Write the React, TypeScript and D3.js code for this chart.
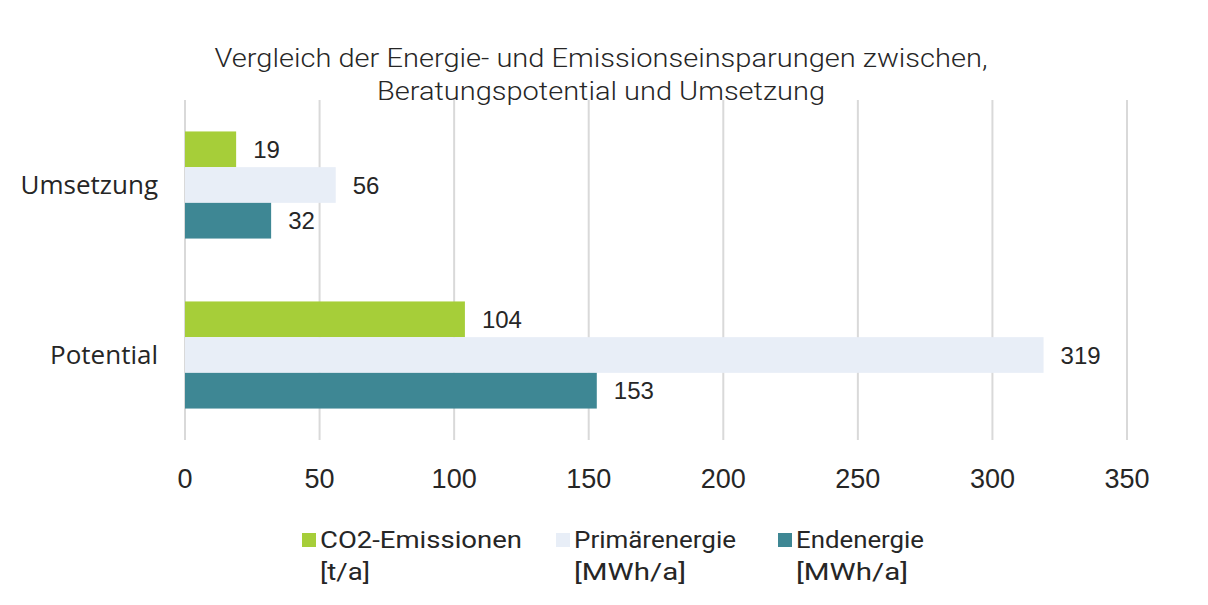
import * as d3 from "d3";

const categories = ["Umsetzung", "Potential"];
const seriesNames = ["CO2-Emissionen", "Primärenergie", "Endenergie"];
const seriesUnits = ["[t/a]", "[MWh/a]", "[MWh/a]"];
const seriesColors = ["#A6CE39", "#E8EEF7", "#3E8794"];
const co2Values = [19, 104];
const primaryValues = [56, 319];
const finalValues = [32, 153];
const xTicks = [0, 50, 100, 150, 200, 250, 300, 350];
const titleLines = [
  "Vergleich der Energie- und Emissionseinsparungen zwischen,",
  "Beratungspotential und Umsetzung",
];

const width = 1208;
const height = 605;
const margin = { top: 100, right: 81, bottom: 165, left: 185 };
const thin = "Roboto, 'Liberation Sans', sans-serif";
const plain = "'Liberation Sans', Arial, sans-serif";

// measured text widths of the condensed office font in the reference
const titleWidths = [773, 448];
const nameWidths = [202, 162, 128];
const unitWidths = [50, 112, 112];

export default function App() {
  const seriesValues = [co2Values, primaryValues, finalValues];

  const x = d3
    .scaleLinear()
    .domain([0, 350])
    .range([margin.left, width - margin.right]);

  const y = d3
    .scaleBand()
    .domain(categories)
    .range([margin.top, height - margin.bottom])
    .paddingInner(0.37)
    .paddingOuter(0.185);

  const inner = d3
    .scaleBand()
    .domain(seriesNames)
    .range([0, y.bandwidth()])
    .padding(0);

  const legendX = [302, 556, 778];

  return (
    <svg
      width={width}
      height={height}
      viewBox={`0 0 ${width} ${height}`}
      style={{ position: "absolute", left: 0, top: 0, background: "#fff" }}
    >
      {titleLines.map((line, i) => (
        <text
          key={line}
          x={601}
          y={67 + i * 33}
          textAnchor="middle"
          fontFamily={thin}
          fontWeight={300}
          fontSize={25}
          fill="#262626"
          textLength={titleWidths[i]}
          lengthAdjust="spacingAndGlyphs"
        >
          {line}
        </text>
      ))}

      {xTicks.map((t) => (
        <line
          key={`g${t}`}
          x1={x(t)}
          x2={x(t)}
          y1={margin.top}
          y2={height - margin.bottom}
          stroke="#D9D9D9"
          strokeWidth={2}
        />
      ))}

      {categories.map((cat, ci) =>
        seriesNames.map((name, si) => {
          const v = seriesValues[si][ci];
          const yy = (y(cat) ?? 0) + (inner(name) ?? 0);
          const bh = inner.bandwidth();
          return (
            <g key={`${cat}-${name}`}>
              <rect
                x={x(0)}
                y={yy}
                width={x(v) - x(0)}
                height={bh}
                fill={seriesColors[si]}
              />
              <text
                x={x(v) + 17}
                y={yy + bh / 2}
                dy="0.36em"
                fontFamily={plain}
                fontSize={24}
                fill="#262626"
              >
                {v}
              </text>
            </g>
          );
        })
      )}

      {categories.map((cat) => (
        <text
          key={cat}
          x={158}
          y={(y(cat) ?? 0) + y.bandwidth() / 2}
          dy="0.35em"
          textAnchor="end"
          fontFamily="'Open Sans', 'Noto Sans', sans-serif"
          fontSize={26}
          fill="#262626"
        >
          {cat}
        </text>
      ))}

      {xTicks.map((t) => (
        <text
          key={`t${t}`}
          x={x(t)}
          y={478}
          dy="0.36em"
          textAnchor="middle"
          fontFamily={plain}
          fontSize={27}
          fill="#262626"
        >
          {t}
        </text>
      ))}

      {seriesNames.map((name, i) => (
        <g key={`l${name}`}>
          <rect x={legendX[i]} y={533} width={14} height={14} fill={seriesColors[i]} />
          <text
            x={legendX[i] + 18}
            y={548}
            fontFamily={thin}
            fontSize={24}
            fill="#262626"
            textLength={nameWidths[i]}
            lengthAdjust="spacingAndGlyphs"
          >
            {name}
          </text>
          <text
            x={legendX[i] + 18}
            y={580}
            fontFamily={thin}
            fontSize={24}
            fill="#262626"
            textLength={unitWidths[i]}
            lengthAdjust="spacingAndGlyphs"
          >
            {seriesUnits[i]}
          </text>
        </g>
      ))}
    </svg>
  );
}
